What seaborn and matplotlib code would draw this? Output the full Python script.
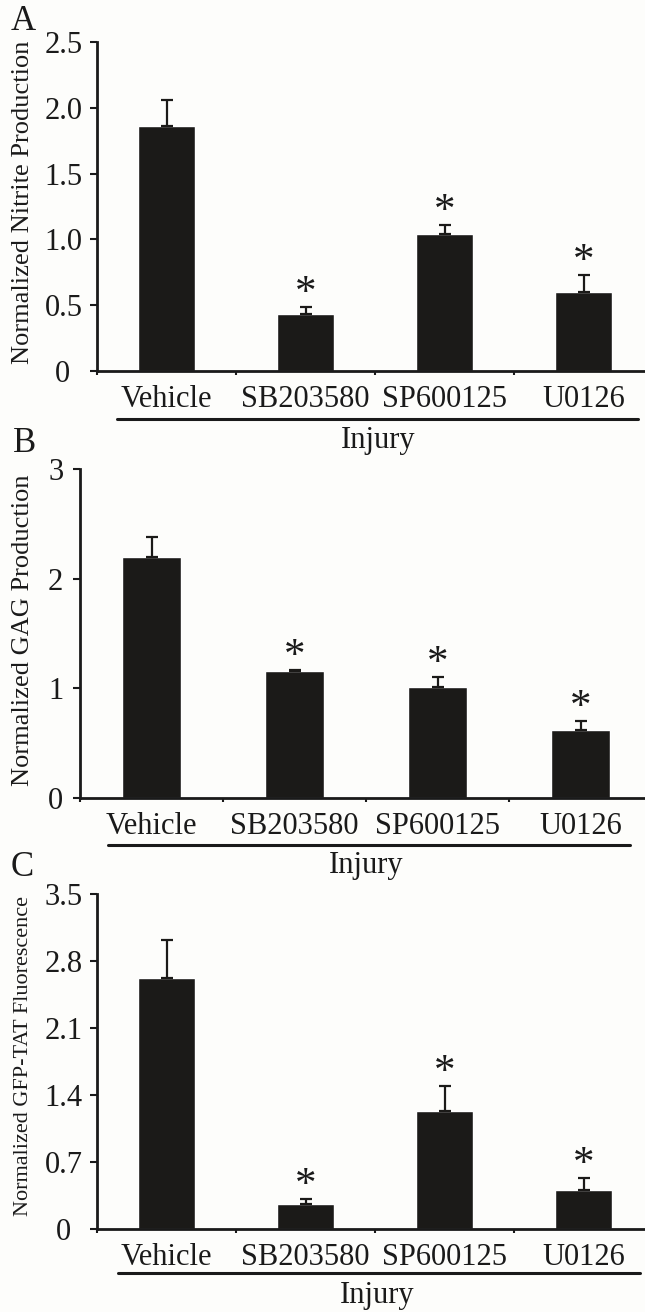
import numpy as np
import pandas as pd
import matplotlib
matplotlib.use("Agg")
import matplotlib.pyplot as plt
import matplotlib.transforms as mtransforms
from matplotlib.lines import Line2D
import seaborn as sns

# ---------------- data ----------------
categories = ["Vehicle", "SB203580", "SP600125", "U0126"]
group_label = "Injury"
significant = [False, True, True, True]

nitrite_mean = [1.86, 0.43, 1.04, 0.60]
nitrite_err = [0.20, 0.06, 0.07, 0.13]
nitrite_ticks = [0, 0.5, 1.0, 1.5, 2.0, 2.5]
nitrite_ticklabels = ["0", "0.5", "1.0", "1.5", "2.0", "2.5"]

gag_mean = [2.20, 1.16, 1.01, 0.62]
gag_err = [0.18, 0.01, 0.09, 0.08]
gag_ticks = [0, 1, 2, 3]
gag_ticklabels = ["0", "1", "2", "3"]

gfp_mean = [2.62, 0.26, 1.23, 0.41]
gfp_err = [0.40, 0.05, 0.26, 0.12]
gfp_ticks = [0, 0.7, 1.4, 2.1, 2.8, 3.5]
gfp_ticklabels = ["0", "0.7", "1.4", "2.1", "2.8", "3.5"]

panel_letters = ["A", "B", "C"]
y_titles = ["Normalized Nitrite Production",
            "Normalized GAG Production",
            "Normalized GFP-TAT Fluorescence"]

# ---------------- style ----------------
sns.set_style("ticks")
plt.rcParams["font.family"] = ["Liberation Serif", "DejaVu Serif"]
BG = "#fdfdfb"
BAR = "#1b1a18"
TXT = "#1a1a1a"
FS = 22

W, H = 645, 1312
fig = plt.figure(figsize=(W / 100, H / 100), dpi=100, facecolor=BG)

layout = [
    dict(mean=nitrite_mean, err=nitrite_err, ticks=nitrite_ticks, tl=nitrite_ticklabels,
         left=97, step=139, zero=371, top=42, ylab=(23, 202), ylab_size=19,
         letter=(23, 21), line=(117, 638, 419), inj=(378, 441), zshift=12, ypad=5.5),
    dict(mean=gag_mean, err=gag_err, ticks=gag_ticks, tl=gag_ticklabels,
         left=80, step=143, zero=798, top=469, ylab=(23, 630), ylab_size=19,
         letter=(25, 443), line=(108, 630, 845), inj=(366, 866), zshift=0, ypad=7),
    dict(mean=gfp_mean, err=gfp_err, ticks=gfp_ticks, tl=gfp_ticklabels,
         left=97, step=139, zero=1229, top=894, ylab=(24, 1056), ylab_size=16,
         letter=(22, 868), line=(118, 640, 1273), inj=(377, 1296), zshift=11, ypad=5.5),
]

for k, p in enumerate(layout):
    width_px = 4 * p["step"]
    height_px = p["zero"] - p["top"]
    ax = fig.add_axes([p["left"] / W, 1 - p["zero"] / H, width_px / W, height_px / H])
    ax.set_facecolor("none")
    df = pd.DataFrame({"cat": categories, "val": p["mean"]})
    sns.barplot(data=df, x="cat", y="val", order=categories, color=BAR,
                saturation=1, width=0.41, errorbar=None, ax=ax, zorder=2)
    x = np.arange(len(categories))
    ax.errorbar(x, p["mean"], yerr=[np.zeros(len(x)), p["err"]], fmt="none",
                ecolor=BAR, elinewidth=1.6, capsize=4, capthick=1.6, zorder=3)
    for i, sig in enumerate(significant):
        if sig:
            ax.annotate("*", xy=(i, p["mean"][i] + p["err"][i]), xytext=(0, 3),
                        textcoords="offset pixels", ha="center", va="baseline",
                        fontsize=31, color=TXT)
    ax.set_xlim(-0.5, 3.5)
    ax.set_ylim(p["ticks"][0], p["ticks"][-1])
    ax.set_yticks(p["ticks"])
    ax.set_yticklabels(p["tl"])
    ax.set_xticks(x)
    ax.set_xticklabels(categories)
    ax.set_xticks([-0.5, 0.5, 1.5, 2.5, 3.5], minor=True)
    ax.tick_params(axis="x", which="major", length=0, pad=10.0, labelsize=FS, colors=TXT)
    ax.tick_params(axis="x", which="minor", length=3, width=1.5, direction="out", color=TXT)
    ax.tick_params(axis="y", length=5, width=1.5, direction="out", pad=p["ypad"],
                   labelsize=FS, colors=TXT)
    for s in ["top", "right"]:
        ax.spines[s].set_visible(False)
    for s in ["left", "bottom"]:
        ax.spines[s].set_linewidth(2)
        ax.spines[s].set_color(TXT)
    if p["zshift"]:
        lab0 = ax.get_yticklabels()[0]
        lab0.set_transform(lab0.get_transform() +
                           mtransforms.Affine2D().translate(-p["zshift"], 0))
    # y label
    yl = ax.set_ylabel(y_titles[k], fontsize=p["ylab_size"], color=TXT)
    ax.yaxis.set_label_coords((p["ylab"][0] - p["left"]) / width_px,
                              (p["zero"] - p["ylab"][1]) / height_px)
    yl.set_rotation_mode("default")
    yl.set_va("center")
    # x label (group)
    xl = ax.set_xlabel(group_label, fontsize=FS, color=TXT)
    ax.xaxis.set_label_coords((p["inj"][0] - p["left"]) / width_px,
                              (p["zero"] - p["inj"][1]) / height_px)
    xl.set_va("center")
    # group underline
    x0, x1, yy = p["line"]
    fig.add_artist(Line2D([x0 / W, x1 / W], [1 - yy / H, 1 - yy / H], color=TXT,
                          lw=2.2, transform=fig.transFigure))
    # panel letter
    fig.text(p["letter"][0] / W, 1 - p["letter"][1] / H, panel_letters[k],
             ha="center", va="center", fontsize=25, color=TXT)

fig.savefig("out.png", dpi=100, facecolor=BG)
